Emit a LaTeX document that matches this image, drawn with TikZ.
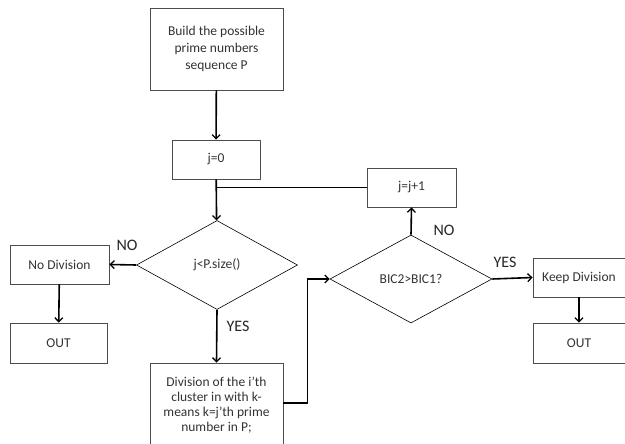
\documentclass[tikz,border=0pt]{standalone}
\usepackage{fontspec}
\setmainfont{Carlito}
\usepackage{tikz}
\usetikzlibrary{shapes.geometric, arrows.meta}

\begin{document}
\begin{tikzpicture}[x=1pt, y=-1pt,
    box/.style={draw=black!70, line width=0.8pt, text=black!80, align=center,
      inner sep=0pt, font=\fontsize{13.5}{17}\selectfont},
    test/.style={draw, shape=diamond, line width=0.6pt, text=black!80,
      inner sep=0pt, font=\fontsize{13.5}{17}\selectfont},
    flow/.style={line width=1.6pt, -{Straight Barb[length=4pt, width=8pt, line width=1.3pt]}},
    answer/.style={font=\fontsize{16}{19}\selectfont, text=black!85}]
  \useasboundingbox (0,0) rectangle (625,444);

  % Main column
  \node[box, minimum width=133pt, minimum height=82pt] (build) at (216.5,49)
    {Build the possible\\prime numbers\\sequence P};
  \node[box, minimum width=88pt, minimum height=39pt] (jzero) at (216,159.5) {j=0};
  \node[test, minimum width=161pt, minimum height=89pt] (size) at (217,265) {j<P.size()};
  \node[box, minimum width=133pt, minimum height=84pt,
    font=\fontsize{13.5}{14.8}\selectfont] (divide) at (216.5,405)
    {Division of the i’th\\cluster in with k-\\means k=j’th prime\\number in P;};

  % Left branch
  \node[box, minimum width=99pt, minimum height=39pt] (nodiv) at (59.5,264.5) {No Division};
  \node[box, minimum width=97pt, minimum height=40pt] (outl) at (58.5,343) {OUT};

  % Right branch
  \node[box, minimum width=89pt, minimum height=39pt] (jinc) at (411.5,187.5) {j=j+1};
  \node[test, minimum width=162pt, minimum height=88pt] (bic) at (411,279) {BIC2>BIC1?};
  \node[box, minimum width=92pt, minimum height=39pt] (keep) at (579,277.5) {Keep Division};
  \node[box, minimum width=92pt, minimum height=40pt] (outr) at (579,343) {OUT};

  % Answers
  \node[answer] (sizeno) at (127,245) {NO};
  \node[answer] (sizeyes) at (238,326) {YES};
  \node[answer] (bicno) at (444,230) {NO};
  \node[answer] (bicyes) at (505,262) {YES};

  % Connectors
  \draw[flow] (build) -- (jzero);
  \draw[flow] (jzero) -- (size);
  \draw[line width=1.6pt] (jinc.west) -- (jinc.west -| jzero.south);
  \draw[flow] (size.west) -- (nodiv.east);
  \draw[flow] (nodiv) -- (outl);
  \draw[flow] (size.south) -- (divide.north);
  \draw[flow] (divide.east) ++(0,-2) -- ++(24,0) |- (bic.west);
  \draw[flow] (bic.north) -- (jinc.south);
  \draw[flow] (bic.east) -- (keep.west);
  \draw[flow] (keep) -- (outr);
\end{tikzpicture}
\end{document}
